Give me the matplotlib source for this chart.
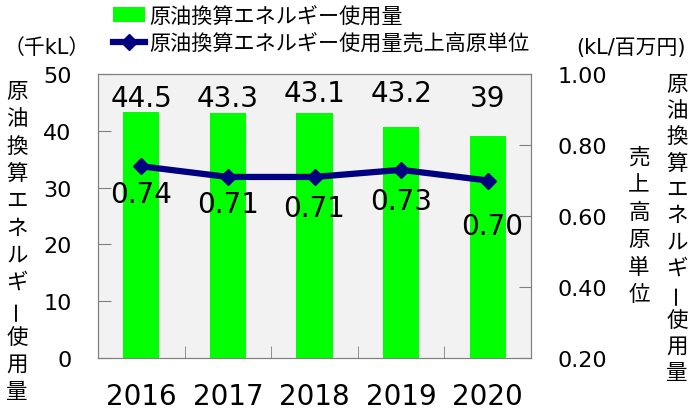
import numpy as np
import matplotlib
matplotlib.use('Agg')
import matplotlib.pyplot as plt

plt.rcParams['font.family'] = ['DejaVu Sans', 'Noto Sans CJK JP']

years = ['2016', '2017', '2018', '2019', '2020']
energy = [43.3, 43.2, 43.2, 40.6, 39.0]          # bar heights as drawn
energy_labels = ['44.5', '43.3', '43.1', '43.2', '39']
intensity = [0.74, 0.71, 0.71, 0.73, 0.70]
intensity_labels = ['0.74', '0.71', '0.71', '0.73', '0.70']

bar_name = '原油換算エネルギー使用量'
line_name = '原油換算エネルギー使用量売上高原単位'
left_unit = '（千kL）'
right_unit = '(kL/百万円)'
left_vert = '原油換算エネルギー使用量'
right_vert_outer = '原油換算エネルギー使用量'
right_vert_inner = '売上高原単位'

W, H = 696, 414
fig = plt.figure(figsize=(W / 100, H / 100), dpi=100)
ax = fig.add_axes([98 / W, 1 - 359 / H, (531 - 98) / W, (359 - 75) / H])
ax.set_facecolor('#F2F2F2')
for s in ax.spines.values():
    s.set_color('#808080')

x = np.arange(len(years))
bars = ax.bar(x, energy, width=0.42, color='#00FF00', zorder=2, label=bar_name)
ax.set_xlim(-0.5, len(years) - 0.5)
ax.set_ylim(0, 50)
ax.set_yticks(np.arange(0, 51, 10))
ax.set_xticks(x)
ax.set_xticklabels(years, fontsize=20)
ax.set_xticks(x[:-1] + 0.5, minor=True)
ax.tick_params(axis='x', which='major', length=0, pad=17)
ax.tick_params(axis='x', which='minor', direction='in', length=9, color='#808080')
ax.tick_params(axis='y', direction='in', length=9, color='#808080', labelsize=16, pad=19)

label_y = [45.8, 45.8, 46.6, 46.6, 45.8]
for xi, lab, ly in zip(x, energy_labels, label_y):
    ax.text(xi, ly, lab, ha='center', va='center', fontsize=20, zorder=5)

ax2 = ax.twinx()
ax2.set_ylim(0.2, 1.0)
ax2.set_yticks([0.2, 0.4, 0.6, 0.8, 1.0])
ax2.set_yticklabels(['%.2f' % v for v in [0.2, 0.4, 0.6, 0.8, 1.0]])
ax2.tick_params(axis='y', direction='in', length=9, color='#808080', labelsize=16, pad=19)
for s in ax2.spines.values():
    s.set_color('#808080')
line, = ax2.plot(x, intensity, color='#000080', lw=4.5, marker='D', ms=8.5,
                 zorder=4, label=line_name)
offsets = [-28, -27, -31, -31, -46]
for xi, v, lab, dy in zip(x, intensity, intensity_labels, offsets):
    ax2.annotate(lab, (xi, v), xytext=(3 if xi == 4 else 0, dy * 0.72),
                 textcoords='offset points', ha='center', va='center', fontsize=20)

fig.legend([bars, line], [bar_name, line_name], loc='upper left',
           bbox_to_anchor=(113 / W, 1 - 7 / H), frameon=False, fontsize=15.2,
           handlelength=1.5, handletextpad=0.2, labelspacing=0.3, borderpad=0,
           borderaxespad=0)

fig.text(47 / W, 1 - 48 / H, left_unit, ha='center', va='center', fontsize=15)
fig.text(631 / W, 1 - 48 / H, right_unit, ha='center', va='center', fontsize=15)

def vertical(xc, y0, step, chars):
    for i, ch in enumerate(chars):
        fig.text(xc / W, 1 - (y0 + i * step) / H, ch, ha='center', va='center',
                 fontsize=15.5, family=['Noto Sans CJK JP'],
                 rotation=90 if ch == 'ー' else 0)

vertical(17, 92, 27.3, left_vert)
vertical(677, 85, 26.2, right_vert_outer)
vertical(639, 158, 27.4, right_vert_inner)

fig.savefig('out.png', dpi=100)
